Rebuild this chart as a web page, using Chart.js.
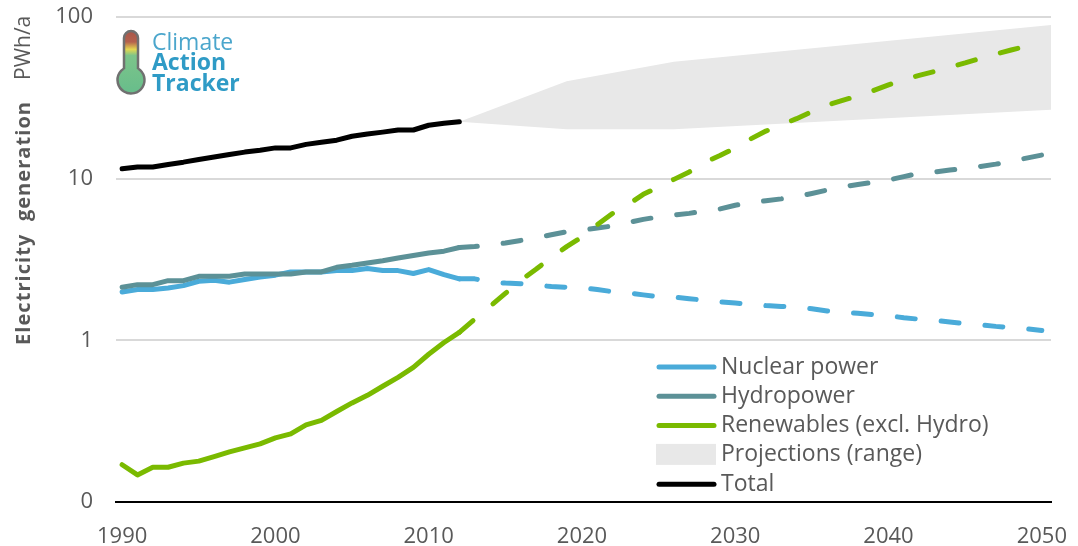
<!DOCTYPE html>
<html>
<head>
<meta charset="utf-8">
<script src="https://cdn.jsdelivr.net/npm/chart.js@4.4.1/dist/chart.umd.min.js"></script>
<style>
  html, body { margin: 0; padding: 0; background: #ffffff; }
  #chart { display: block; }
</style>
</head>
<body>
<canvas id="chart" width="1078" height="546"></canvas>
<script>
// --- Data (PWh/a) ---
const histYears = [1990, 1991, 1992, 1993, 1994, 1995, 1996, 1997, 1998, 1999, 2000, 2001, 2002, 2003, 2004, 2005, 2006, 2007, 2008, 2009, 2010, 2011, 2012];
const totalHist = [11.5, 11.8, 11.8, 12.25, 12.65, 13.15, 13.6, 14.1, 14.6, 15.0, 15.5, 15.5, 16.3, 16.8, 17.3, 18.3, 18.9, 19.4, 20.0, 20.0, 21.4, 22.0, 22.5];
const nuclearHist = [1.99, 2.06, 2.06, 2.11, 2.18, 2.32, 2.35, 2.29, 2.38, 2.46, 2.53, 2.65, 2.65, 2.65, 2.70, 2.70, 2.78, 2.70, 2.70, 2.59, 2.74, 2.55, 2.40];
const hydroHist = [2.13, 2.21, 2.21, 2.34, 2.34, 2.49, 2.49, 2.49, 2.57, 2.57, 2.57, 2.57, 2.65, 2.65, 2.83, 2.91, 3.01, 3.11, 3.23, 3.35, 3.47, 3.56, 3.75];
const renewHist = [0.170, 0.147, 0.164, 0.164, 0.174, 0.179, 0.191, 0.204, 0.216, 0.229, 0.249, 0.264, 0.30, 0.32, 0.363, 0.41, 0.457, 0.52, 0.59, 0.68, 0.82, 0.97, 1.12];

const projYears = [2012, 2013, 2014, 2015, 2016, 2017, 2018, 2019, 2020, 2021, 2022, 2023, 2024, 2025, 2026, 2027, 2028, 2029, 2030,
  2031, 2032, 2033, 2034, 2035, 2036, 2037, 2038, 2039, 2040, 2041, 2042, 2043, 2044, 2045, 2046, 2047, 2048, 2049, 2050];
const nuclearProj = [2.40, 2.40, 2.30, 2.26, 2.24, 2.20, 2.15, 2.13, 2.12, 2.06, 2.00, 1.97, 1.91, 1.86, 1.85, 1.81, 1.77, 1.73, 1.70,
  1.67, 1.64, 1.62, 1.60, 1.57, 1.52, 1.49, 1.47, 1.44, 1.42, 1.38, 1.35, 1.33, 1.30, 1.27, 1.25, 1.22, 1.20, 1.18, 1.15];
const hydroProj = [3.75, 3.80, 3.88, 4.00, 4.15, 4.30, 4.50, 4.70, 4.80, 4.95, 5.10, 5.35, 5.60, 5.80, 5.95, 6.10, 6.30, 6.50, 6.85,
  7.10, 7.30, 7.50, 7.75, 8.10, 8.50, 8.90, 9.20, 9.50, 9.80, 10.3, 10.8, 11.0, 11.3, 11.6, 11.9, 12.3, 12.8, 13.4, 14.0];
const renewProj = [1.12, 1.35, 1.62, 1.95, 2.35, 2.75, 3.25, 3.80, 4.35, 5.20, 6.10, 6.90, 8.00, 8.90, 9.90, 11.0, 12.6, 13.9, 15.5,
  17.6, 19.7, 21.5, 23.5, 26.0, 28.5, 30.5, 32.5, 35.0, 38.0, 41.0, 43.5, 46.0, 49.0, 52.0, 55.5, 59.0, 62.5, 66.0, 70.0];

// projection band runs slightly past the 2050 category, as in the original
const rangeYears = [2012, 2019, 2026, 2051];
const rangeHigh = [22.5, 40, 52.8, 90];
const rangeLow = [22.5, 20.2, 20.2, 26.8];

const yearTicks = [1990, 2000, 2010, 2020, 2030, 2040, 2050];
const valueTicks = [0.1, 1, 10, 100];
const valueTickLabels = ['0', '1', '10', '100'];
const legendLabels = ['Nuclear power', 'Hydropower', 'Renewables (excl. Hydro)', 'Projections (range)', 'Total'];

// --- Styling ---
const FONT = "'Open Sans', 'DejaVu Sans', sans-serif";
const TEXT = '#595959';
const C_NUC = '#4aabd9';
const C_HYD = '#5c9197';
const C_REN = '#7aba00';
const C_TOT = '#000000';
const C_RANGE = '#e8e8e8';
const legendColors = [C_NUC, C_HYD, C_REN, C_RANGE, C_TOT];
const DASH = [18, 26];

const pts = (xs, ys) => xs.map((x, i) => ({ x: x, y: ys[i] }));

function lineSet(label, xs, ys, color, dashed, order) {
  return {
    label: label,
    data: pts(xs, ys),
    borderColor: color,
    backgroundColor: color,
    borderWidth: 5,
    borderDash: dashed ? DASH : [],
    borderCapStyle: 'round',
    borderJoinStyle: 'round',
    pointRadius: 0,
    tension: 0,
    fill: false,
    order: order
  };
}

// ==========================================
// Decorations: y title, logo, legend
// ==========================================
const decor = {
  id: 'decor',
  afterDraw(chart) {
    const ctx = chart.ctx;
    ctx.save();

    // y axis title (rotated), bold part stretched to the original length
    ctx.translate(30, 345);
    ctx.rotate(-Math.PI / 2);
    ctx.fillStyle = TEXT;
    ctx.textBaseline = 'alphabetic';
    ctx.textAlign = 'left';
    ctx.font = "bold 20px " + FONT;
    const t1 = 'Electricity  generation';
    const w1 = ctx.measureText(t1).width;
    ctx.letterSpacing = ((243 - w1) / (t1.length - 1)).toFixed(2) + 'px';
    ctx.fillText(t1, 0, 0);
    ctx.letterSpacing = '0px';
    ctx.font = "21px " + FONT;
    ctx.fillText('PWh/a', 265, 0);
    ctx.restore();

    // logo: thermometer
    ctx.save();
    const cx = 131, bulbY = 80, r = 13.5;
    ctx.beginPath();
    ctx.moveTo(cx - 7, bulbY - 11);
    ctx.lineTo(cx - 7, 38);
    ctx.arc(cx, 38, 7, Math.PI, 0);
    ctx.lineTo(cx + 7, bulbY - 11);
    ctx.arc(cx, bulbY, r, -Math.PI / 2 + 0.55, Math.PI * 1.5 - 0.55);
    ctx.closePath();
    const g = ctx.createLinearGradient(0, 32, 0, 94);
    g.addColorStop(0, '#a9574a');
    g.addColorStop(0.16, '#b5614d');
    g.addColorStop(0.28, '#e4d750');
    g.addColorStop(0.38, '#7cc48a');
    g.addColorStop(1, '#67bd8b');
    ctx.fillStyle = g;
    ctx.fill();
    ctx.lineWidth = 2.5;
    ctx.strokeStyle = '#707070';
    ctx.stroke();

    ctx.textAlign = 'left';
    ctx.textBaseline = 'alphabetic';
    ctx.fillStyle = '#4ba6cc';
    ctx.font = "23px " + FONT;
    ctx.fillText('Climate', 152, 50);
    ctx.fillStyle = '#2f9bc6';
    ctx.font = "bold 23px " + FONT;
    ctx.fillText('Action', 152, 70);
    ctx.fillText('Tracker', 152, 91);
    ctx.restore();

    // legend
    ctx.save();
    ctx.font = "23px " + FONT;
    ctx.textBaseline = 'middle';
    ctx.textAlign = 'left';
    legendLabels.forEach((lab, i) => {
      const y = 367 + i * 29.3;
      if (i === 3) {
        ctx.fillStyle = legendColors[i];
        ctx.fillRect(656, y - 11, 60, 21);
      } else {
        ctx.strokeStyle = legendColors[i];
        ctx.lineWidth = 5;
        ctx.lineCap = 'round';
        ctx.beginPath();
        ctx.moveTo(659, y);
        ctx.lineTo(714, y);
        ctx.stroke();
      }
      ctx.fillStyle = TEXT;
      ctx.fillText(lab, 721, y);
    });
    ctx.restore();
  }
};

const rangeUpper = {
  label: 'Projections (range)',
  data: pts(rangeYears, rangeHigh),
  borderWidth: 0,
  borderColor: C_RANGE,
  backgroundColor: C_RANGE,
  pointRadius: 0,
  tension: 0,
  fill: '+1',
  clip: false,
  order: 10
};
const rangeLower = {
  label: 'range low',
  data: pts(rangeYears, rangeLow),
  borderWidth: 0,
  borderColor: C_RANGE,
  backgroundColor: C_RANGE,
  pointRadius: 0,
  tension: 0,
  fill: false,
  clip: false,
  order: 11
};

new Chart(document.getElementById('chart'), {
  type: 'line',
  data: {
    datasets: [
      rangeUpper,
      rangeLower,
      lineSet('Nuclear power', histYears, nuclearHist, C_NUC, false, 4),
      lineSet('Nuclear power proj', projYears, nuclearProj, C_NUC, true, 4),
      lineSet('Hydropower', histYears, hydroHist, C_HYD, false, 3),
      lineSet('Hydropower proj', projYears, hydroProj, C_HYD, true, 3),
      lineSet('Renewables (excl. Hydro)', histYears, renewHist, C_REN, false, 2),
      lineSet('Renewables proj', projYears, renewProj, C_REN, true, 2),
      lineSet('Total', histYears, totalHist, C_TOT, false, 1)
    ]
  },
  options: {
    responsive: false,
    animation: false,
    devicePixelRatio: 1,
    layout: { padding: { left: 0, right: 27, top: 17, bottom: 0 } },
    plugins: {
      legend: { display: false },
      tooltip: { enabled: false }
    },
    scales: {
      x: {
        type: 'linear',
        min: 1989.6,
        max: 2050.6,
        afterFit: s => { s.height = 44; s.paddingLeft = 0; s.paddingRight = 0; },
        afterBuildTicks: s => { s.ticks = yearTicks.map(v => ({ value: v })); },
        grid: { display: false, drawTicks: false },
        border: { display: true, color: '#000000', width: 2 },
        ticks: {
          color: TEXT,
          font: { family: FONT, size: 22 },
          padding: 22,
          maxRotation: 0,
          callback: v => String(v)
        }
      },
      y: {
        type: 'logarithmic',
        min: 0.1,
        max: 100,
        afterFit: s => { s.width = 116; s.paddingTop = 0; s.paddingBottom = 0; },
        afterBuildTicks: s => { s.ticks = valueTicks.map(v => ({ value: v })); },
        grid: {
          drawTicks: false,
          lineWidth: 2,
          color: ctx => (ctx.tick && ctx.tick.value === 0.1) ? 'rgba(0,0,0,0)' : '#d9d9d9'
        },
        border: { display: false },
        ticks: {
          color: TEXT,
          font: { family: FONT, size: 22 },
          padding: 23,
          callback: v => valueTickLabels[valueTicks.indexOf(v)]
        }
      }
    }
  },
  plugins: [decor]
});
</script>
</body>
</html>
